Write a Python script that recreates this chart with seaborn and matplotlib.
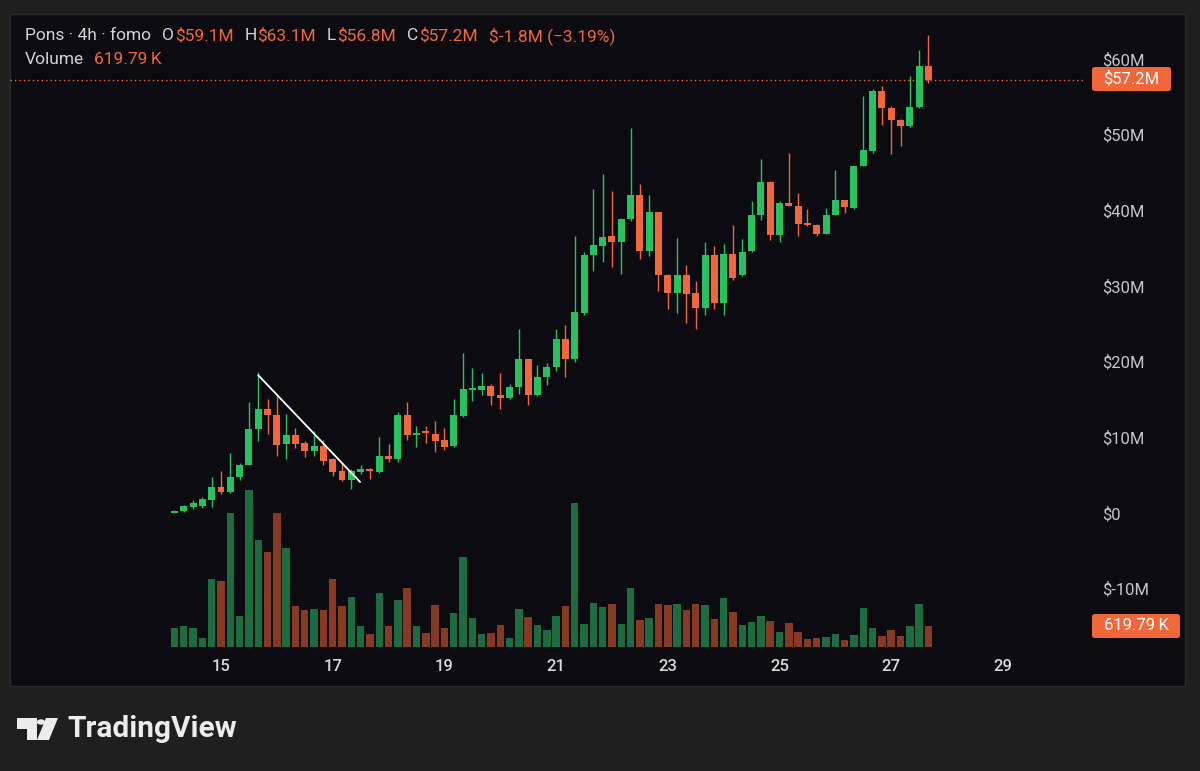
import numpy as np
import pandas as pd
import matplotlib
matplotlib.use("Agg")
import matplotlib.pyplot as plt
import seaborn as sns
from matplotlib.patches import Rectangle, Polygon, Circle, FancyBboxPatch

# ---------------- data (values in $M, volume in K) ----------------
opens = [0.05, 0.2, 0.8, 0.95, 1.7, 3.5, 2.8, 4.7, 6.4, 11.1,
         13.7, 13.0, 9.1, 10.3, 9.25, 8.2, 8.9, 7.1, 5.5, 4.35,
         5.4, 5.8, 5.4, 7.5, 7.1, 12.9, 10.3, 10.75, 10.5, 9.6,
         8.8, 12.85, 16.3, 16.3, 16.8, 15.6, 15.2, 16.7, 20.3, 15.6,
         17.9, 19.3, 23.0, 20.3, 26.4, 34.1, 35.3, 36.6, 35.8, 38.8,
         42.0, 34.6, 39.7, 31.5, 29.0, 31.5, 29.0, 27.1, 34.1, 27.7,
         34.2, 31.4, 34.6, 39.4, 43.7, 36.7, 40.9, 40.6, 38.3, 38.0,
         36.9, 39.4, 41.3, 40.3, 45.8, 47.8, 55.7, 53.5, 51.9, 51.1,
         53.6, 59.1]
highs = [0.4, 1.0, 1.7, 2.1, 4.8, 5.5, 7.9, 6.6, 14.6, 18.6,
         15.1, 15.4, 13.1, 11.2, 9.5, 10.8, 9.7, 7.3, 6.6, 5.8,
         6.4, 6.0, 10.1, 9.1, 13.4, 14.6, 11.5, 11.5, 12.1, 11.2,
         15.0, 21.1, 19.2, 18.55, 17.1, 18.55, 17.1, 24.25, 20.4, 19.5,
         19.8, 24.25, 24.9, 36.6, 34.5, 42.8, 44.8, 42.6, 39.0, 50.9,
         43.5, 42.0, 39.8, 31.6, 36.3, 32.7, 30.7, 35.8, 35.3, 35.5,
         38.1, 36.2, 41.2, 46.7, 43.8, 41.2, 47.5, 42.3, 40.2, 38.2,
         40.3, 45.3, 41.4, 45.9, 55.1, 56.0, 56.4, 53.7, 52.0, 57.7,
         61.1, 63.1]
lows = [0.0, 0.1, 0.5, 0.7, 0.8, 2.5, 2.7, 4.3, 6.3, 9.5,
        10.4, 7.5, 7.1, 8.6, 7.4, 7.5, 6.3, 4.9, 4.2, 3.2,
        5.2, 4.5, 5.3, 6.75, 6.75, 9.7, 8.7, 9.3, 8.1, 8.3,
        8.7, 12.7, 14.8, 15.6, 14.3, 13.8, 15.0, 15.75, 14.3, 15.4,
        16.9, 18.7, 17.9, 20.0, 26.2, 32.0, 33.2, 32.5, 31.6, 38.6,
        33.6, 33.9, 29.3, 27.0, 26.4, 25.1, 24.3, 26.2, 26.9, 26.2,
        30.8, 31.3, 34.5, 38.7, 36.1, 35.8, 40.5, 36.6, 37.9, 36.6,
        36.8, 39.3, 39.6, 40.2, 45.8, 47.6, 51.2, 47.4, 48.5, 51.0,
        53.5, 56.8]
closes = [0.3, 0.9, 1.3, 1.9, 3.5, 2.8, 4.8, 6.4, 11.1, 13.7,
          12.9, 9.0, 10.3, 9.1, 8.2, 8.9, 6.9, 5.4, 4.3, 5.5,
          5.8, 5.5, 7.5, 7.1, 12.9, 10.3, 10.6, 10.6, 9.5, 8.7,
          13.0, 16.4, 16.5, 16.8, 15.5, 15.2, 16.7, 20.3, 15.6, 17.9,
          19.3, 23.0, 20.4, 26.5, 34.1, 35.4, 36.5, 35.8, 38.9, 42.0,
          34.6, 39.7, 31.5, 29.0, 31.5, 28.9, 27.1, 34.1, 27.7, 34.2,
          31.1, 34.5, 39.4, 43.7, 36.7, 41.0, 40.6, 38.2, 38.0, 36.9,
          39.4, 41.3, 40.4, 45.8, 47.9, 55.7, 53.5, 51.9, 51.1, 53.6,
          59.0, 57.2]
volumes = [578, 638, 578, 260, 2044, 1965, 4018, 918, 4706, 3190,
           2841, 3998, 2971, 1226, 1097, 1147, 1107, 2044, 1226, 1485,
           618, 399, 1605, 618, 1396, 1755, 618, 419, 1246, 558,
           1017, 2702, 878, 399, 419, 658, 279, 1147, 888, 668,
           519, 928, 1220, 4297, 675, 1326, 1207, 1279, 699, 1764,
           817, 864, 1302, 1243, 1279, 1112, 1279, 1243, 840, 1468,
           1053, 651, 758, 923, 793, 462, 711, 450, 225, 260,
           296, 379, 201, 355, 1160, 568, 331, 521, 331, 639,
           1290, 619.79]
# 4h candles, first one at day 14 04:00 (x axis in days of month)
start_day = 14 + 4 / 24
times = start_day + np.arange(len(opens)) * (4 / 24)

day_ticks = [15, 17, 19, 21, 23, 25, 27, 29]
price_ticks = [-10, 0, 10, 20, 30, 40, 50, 60]
last_price = 57.2
last_price_label = "$57.2M"
last_volume_label = "619.79\u2009K"
trend_x = [15.667, 17.49]
trend_y = [18.2, 4.1]

header_parts = [("Pons · 4h · fomo", "lbl", 0), ("O", "lbl", 8), ("$59.1M", "val", 0.5),
                ("H", "lbl", 8), ("$63.1M", "val", 0.5), ("L", "lbl", 8), ("$56.8M", "val", 0.5),
                ("C", "lbl", 8), ("$57.2M", "val", 0.5), ("$-1.8M (\u22123.19%)", "val", 8)]
volume_parts = [("Volume", "lbl", 0), ("619.79\u2009K", "val", 7)]

# ---------------- style ----------------
sns.set_theme(style="dark")
plt.rcParams["font.family"] = ["Roboto", "DejaVu Sans"]

W, H = 1200, 771
OUTER = "#1f1f1f"
BG = "#0b0b11"
UP = "#27c25f"
DOWN = "#f2673a"
VUP = "#1d6c3f"
VDOWN = "#873a22"
LBL = "#d1d4dc"
VAL = "#f2673a"
FS = 12.5

def fx(px):
    return px / W

def fy(py):
    return 1 - py / H

fig = plt.figure(figsize=(12, 7.71), dpi=100, facecolor=OUTER)
fig.patches.append(Rectangle((fx(10), fy(686)), (1185 - 10) / W, (686 - 14) / H,
                             transform=fig.transFigure, facecolor=BG,
                             edgecolor="#2a2a2e", lw=1, zorder=-5))

ax = fig.add_axes([fx(10), fy(647), (1086 - 10) / W, (647 - 14) / H])
ax2 = ax.twinx()
ax2.set_zorder(1)
ax.set_zorder(2)
ax.patch.set_visible(False)
ax2.patch.set_visible(False)

# volume via seaborn
dirs = ["up" if c >= o else "down" for o, c in zip(opens, closes)]
vol_df = pd.DataFrame({"time": times, "volume": volumes, "dir": dirs})
sns.barplot(data=vol_df, x="time", y="volume", hue="dir", native_scale=True,
            palette={"up": VUP, "down": VDOWN}, width=0.8, dodge=False,
            errorbar=None, legend=False, saturation=1, linewidth=0, ax=ax2)

# candles
cols = [UP if d == "up" else DOWN for d in dirs]
o = np.array(opens); c = np.array(closes)
body_bottom = np.minimum(o, c)
body_h = np.maximum(np.abs(c - o), 0.18)
ax.vlines(times, lows, highs, colors=cols, lw=1.0, zorder=3)
ax.bar(times, body_h, bottom=body_bottom, width=0.125, color=cols, lw=0, zorder=4)

# trend line drawing
ax.plot(trend_x, trend_y, color="white", lw=1.3, zorder=5, solid_capstyle="round")

# last price line
ax.axhline(last_price, color=DOWN, lw=1.0, ls=(0, (1, 2.2)), zorder=2)

# scales
px_per_m = 7.57
y0_px = 513
ax.set_ylim((y0_px - 647) / px_per_m, (y0_px - 14) / px_per_m)
px_per_day = 55.85
ax.set_xlim(15 - (221 - 10) / px_per_day, 15 + (1086 - 221) / px_per_day)
vol_px_per_k = 20.7 / 619.79
ax2.set_ylim(0, (647 - 14) / vol_px_per_k)
ax2.set_yticks([])
ax2.set_ylabel("")
ax2.set_xlabel("")

ax.yaxis.tick_right()
ax.set_yticks(price_ticks)
ax.set_yticklabels(["$0" if v == 0 else f"${v}M" for v in price_ticks])
ax.tick_params(axis="y", length=0, pad=11.5, labelsize=12, labelcolor="#c4c6cc")
ax.set_xticks(day_ticks)
ax.set_xticklabels([str(d) for d in day_ticks])
ax.tick_params(axis="x", length=0, pad=8.5, labelsize=12, labelcolor="#d6d8de")
for lab in ax.get_xticklabels():
    lab.set_fontweight("medium")
ax.set_xlabel(""); ax.set_ylabel("")
ax.grid(False); ax2.grid(False)
for a in (ax, ax2):
    for s in a.spines.values():
        s.set_visible(False)

# right-hand labels
def tag(text, x0, x1, yc, h=24):
    fig.patches.append(FancyBboxPatch((fx(x0), fy(yc + h / 2)), (x1 - x0) / W, h / H,
                                      boxstyle="round,pad=0,rounding_size=0.003",
                                      transform=fig.transFigure, fc=DOWN, ec="none", zorder=5))
    fig.text(fx((x0 + x1) / 2), fy(yc), text, ha="center", va="center",
             color="white", fontsize=12, zorder=6)

tag(last_price_label, 1092, 1171, 79)
tag(last_volume_label, 1092, 1180, 626)

# header legend
def chain(parts, x0, yc):
    prev = None
    for text, kind, gap in parts:
        color = LBL if kind == "lbl" else VAL
        if prev is None:
            prev = fig.text(fx(x0), fy(yc), text, ha="left", va="center",
                            color=color, fontsize=FS)
        else:
            prev = ax.annotate(text, xy=(1, 0.5), xycoords=prev, xytext=(gap, 0),
                               textcoords="offset points", ha="left", va="center",
                               color=color, fontsize=FS, annotation_clip=False)

chain(header_parts, 25, 36)
chain(volume_parts, 25, 60)

# TradingView logo
LOGO = "#ececec"
fig.patches.append(Polygon([(fx(17), fy(718)), (fx(37), fy(718)), (fx(37), fy(740)),
                            (fx(27), fy(740)), (fx(27), fy(729)), (fx(17), fy(729))],
                           closed=True, transform=fig.transFigure, fc=LOGO, ec="none"))
fig.patches.append(Circle((fx(41), fy(722)), 4.2 / W, transform=fig.transFigure,
                          fc=LOGO, ec="none"))
fig.patches.append(Polygon([(fx(46), fy(718)), (fx(58), fy(718)), (fx(49), fy(740)),
                            (fx(37), fy(740))],
                           closed=True, transform=fig.transFigure, fc=LOGO, ec="none"))
fig.text(fx(67), fy(729), "TradingView", ha="left", va="center", color=LOGO,
         fontsize=21.5, fontweight="bold")

fig.savefig("out.png", dpi=100, facecolor=OUTER)
